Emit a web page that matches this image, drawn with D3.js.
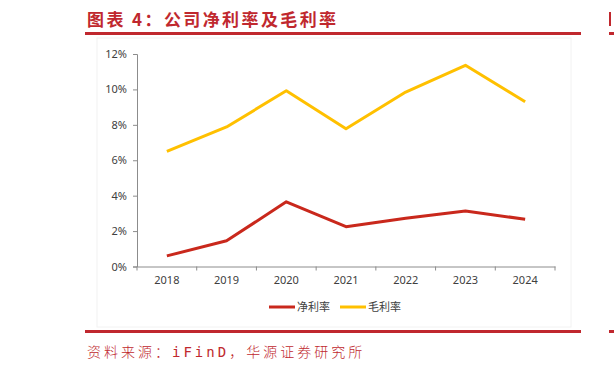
<!DOCTYPE html>
<html>
<head>
<meta charset="utf-8">
<script src="https://cdn.jsdelivr.net/npm/d3@7"></script>
<style>
  body { margin: 0; background: #fff; }
  svg text { font-family: "Noto Sans", "Noto Sans CJK SC", sans-serif; }
</style>
</head>
<body>
<div id="chart"></div>
<script>
// data
const years = ['2018', '2019', '2020', '2021', '2022', '2023', '2024'];
const netMargin = [0.60, 1.45, 3.65, 2.25, 2.72, 3.13, 2.67];
const grossMargin = [6.50, 7.88, 9.92, 7.78, 9.85, 11.36, 9.30];
const yTicks = [0, 2, 4, 6, 8, 10, 12];
const seriesNames = ['净利率', '毛利率'];
const seriesColors = ['#c9281c', '#ffc000'];

const W = 614, H = 370;
const red = '#c0282e';

const svg = d3.select('#chart').append('svg')
    .attr('width', W)
    .attr('height', H);

// title + rules
svg.append('text')
    .attr('x', 87)
    .attr('y', 26)
    .attr('fill', red)
    .style('font-family', '"Noto Sans CJK SC", sans-serif')
    .style('font-size', '17px')
    .style('font-weight', 'bold')
    .style('letter-spacing', '2.4px')
    .text('图表 4：公司净利率及毛利率');

svg.append('rect').attr('x', 85).attr('y', 32).attr('width', 496).attr('height', 3).attr('fill', red);
svg.append('rect').attr('x', 609).attr('y', 32).attr('width', 5).attr('height', 3).attr('fill', red);
svg.append('rect').attr('x', 609).attr('y', 12).attr('width', 2).attr('height', 14).attr('fill', red);
svg.append('rect').attr('x', 85).attr('y', 330).attr('width', 496).attr('height', 3).attr('fill', red);
svg.append('rect').attr('x', 609).attr('y', 330).attr('width', 5).attr('height', 3).attr('fill', red);

// faint chart frame
svg.append('rect')
    .attr('x', 97).attr('y', 38)
    .attr('width', 474).attr('height', 289)
    .attr('fill', 'none')
    .attr('stroke', '#f2f2f2')
    .attr('stroke-width', 1);

svg.append('text')
    .attr('x', 87)
    .attr('y', 357)
    .attr('fill', red)
    .style('font-family', '"DejaVu Sans Mono", "Noto Sans CJK SC", monospace')
    .style('font-size', '14px')
    .style('font-weight', '300')
    .style('letter-spacing', '3px')
    .text('资料来源：iFinD，华源证券研究所');

// plot
const x = d3.scaleBand().domain(years).range([137, 555]);
const y = d3.scaleLinear().domain([0, 12]).range([266.5, 54]);

const yAxis = svg.append('g')
    .attr('transform', 'translate(137,0)')
    .call(d3.axisLeft(y).tickValues(yTicks).tickFormat(d => d + '%').tickSize(4).tickPadding(6));

const xAxis = svg.append('g')
    .attr('transform', 'translate(0,266.5)')
    .call(d3.axisBottom(x).tickSize(0).tickPadding(10));

// band-edge ticks
xAxis.selectAll('.edge')
    .data(years.map(d => x(d)).concat([x.range()[1]]))
    .enter().append('line')
    .attr('class', 'edge')
    .attr('x1', d => d).attr('x2', d => d)
    .attr('y1', 0).attr('y2', 4)
    .attr('stroke', '#8c8c8c');

[yAxis, xAxis].forEach(g => {
    g.select('.domain').attr('stroke', '#8c8c8c');
    g.selectAll('.tick line').attr('stroke', '#8c8c8c');
    g.selectAll('text')
        .attr('fill', '#404040')
        .style('font-size', '11px');
});

const line = d3.line()
    .x((d, i) => x(years[i]) + x.bandwidth() / 2)
    .y(d => y(d));

[netMargin, grossMargin].forEach((s, i) => {
    svg.append('path')
        .datum(s)
        .attr('d', line)
        .attr('fill', 'none')
        .attr('stroke', seriesColors[i])
        .attr('stroke-width', 3)
        .attr('stroke-linejoin', 'round');
});

// legend
const legend = svg.append('g').attr('transform', 'translate(269,307)');
const legendX = [0, 71];
seriesNames.forEach((name, i) => {
    legend.append('line')
        .attr('x1', legendX[i]).attr('x2', legendX[i] + 26)
        .attr('y1', 0).attr('y2', 0)
        .attr('stroke', seriesColors[i])
        .attr('stroke-width', 3);
    legend.append('text')
        .attr('x', legendX[i] + 28)
        .attr('y', 4)
        .attr('fill', '#404040')
        .style('font-size', '11px')
        .style('font-family', '"Noto Sans CJK SC", sans-serif')
        .text(name);
});
</script>
</body>
</html>
